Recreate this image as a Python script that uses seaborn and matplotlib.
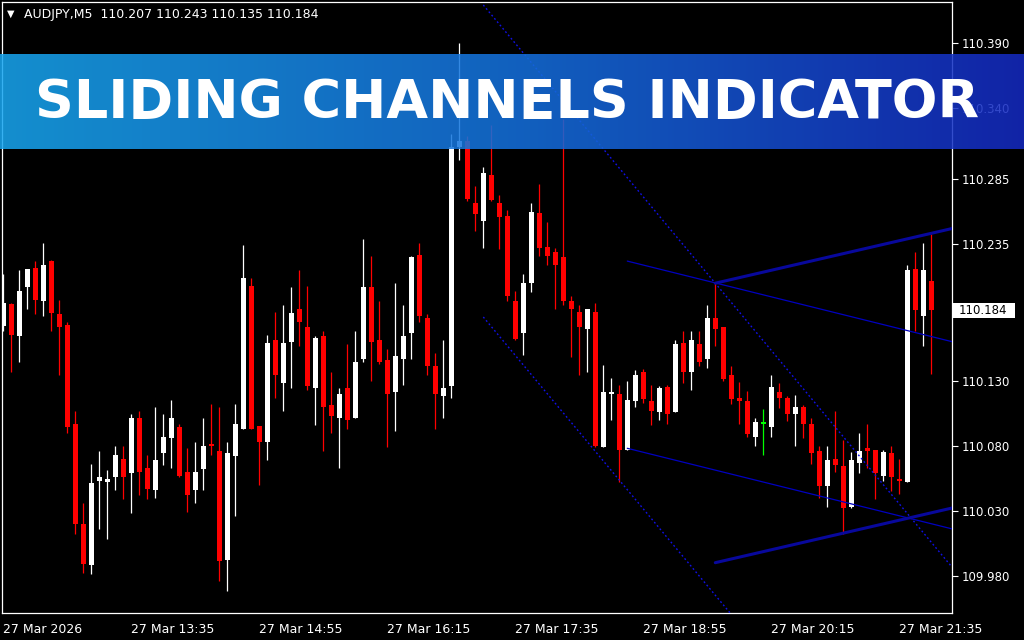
import numpy as np
import pandas as pd
import matplotlib
matplotlib.use("Agg")
import matplotlib.pyplot as plt
import matplotlib.transforms as mtransforms
from matplotlib.patches import Rectangle
import seaborn as sns

# AUDJPY M5 candles
opens = [110.172, 110.189, 110.164, 110.202, 110.217, 110.191, 110.222, 110.181, 110.173, 110.097,
         110.020, 109.988, 110.053, 110.052, 110.056, 110.070, 110.059, 110.101, 110.063, 110.046,
         110.074, 110.086, 110.094, 110.060, 110.046, 110.062, 110.081, 110.076, 109.992, 110.072,
         110.093, 110.203, 110.095, 110.083, 110.161, 110.128, 110.160, 110.185, 110.171, 110.124,
         110.164, 110.111, 110.101, 110.124, 110.101, 110.147, 110.202, 110.161, 110.146, 110.121,
         110.147, 110.167, 110.227, 110.178, 110.141, 110.118, 110.126, 110.310, 110.314, 110.267,
         110.253, 110.288, 110.267, 110.257, 110.191, 110.167, 110.205, 110.259, 110.233, 110.229,
         110.225, 110.191, 110.183, 110.170, 110.183, 110.079, 110.120, 110.120, 110.077, 110.114,
         110.137, 110.114, 110.106, 110.125, 110.106, 110.159, 110.137, 110.158, 110.147, 110.178,
         110.171, 110.134, 110.117, 110.114, 110.087, 110.097, 110.094, 110.121, 110.117, 110.104,
         110.110, 110.097, 110.076, 110.049, 110.070, 110.064, 110.033, 110.067, 110.078, 110.077,
         110.057, 110.074, 110.054, 110.052, 110.216, 110.180, 110.207]
highs = [110.212, 110.190, 110.215, 110.216, 110.222, 110.236, 110.223, 110.192, 110.175, 110.107,
         110.036, 110.066, 110.076, 110.061, 110.080, 110.080, 110.104, 110.107, 110.073, 110.110,
         110.104, 110.115, 110.097, 110.078, 110.083, 110.101, 110.112, 110.110, 110.083, 110.112,
         110.234, 110.209, 110.095, 110.165, 110.183, 110.188, 110.202, 110.215, 110.203, 110.164,
         110.168, 110.137, 110.124, 110.158, 110.168, 110.239, 110.226, 110.191, 110.154, 110.205,
         110.188, 110.226, 110.236, 110.181, 110.151, 110.161, 110.320, 110.390, 110.318, 110.280,
         110.294, 110.327, 110.273, 110.261, 110.199, 110.212, 110.267, 110.281, 110.252, 110.232,
         110.331, 110.195, 110.188, 110.185, 110.190, 110.142, 110.132, 110.127, 110.130, 110.138,
         110.139, 110.127, 110.126, 110.127, 110.161, 110.168, 110.168, 110.168, 110.188, 110.205,
         110.171, 110.141, 110.129, 110.122, 110.101, 110.108, 110.134, 110.128, 110.118, 110.119,
         110.111, 110.101, 110.080, 110.080, 110.107, 110.084, 110.075, 110.090, 110.097, 110.077,
         110.077, 110.080, 110.070, 110.219, 110.229, 110.236, 110.243]
lows = [110.168, 110.137, 110.144, 110.185, 110.181, 110.180, 110.168, 110.134, 110.090, 110.012,
        109.982, 109.981, 110.016, 110.008, 110.046, 110.039, 110.028, 110.042, 110.039, 110.040,
        110.065, 110.063, 110.056, 110.029, 110.036, 110.046, 110.073, 109.976, 109.968, 110.026,
        110.093, 110.093, 110.050, 110.069, 110.117, 110.107, 110.124, 110.157, 110.123, 110.096,
        110.076, 110.090, 110.063, 110.093, 110.101, 110.144, 110.130, 110.143, 110.079, 110.091,
        110.127, 110.147, 110.175, 110.134, 110.093, 110.101, 110.117, 110.300, 110.268, 110.245,
        110.232, 110.268, 110.231, 110.191, 110.161, 110.150, 110.198, 110.226, 110.219, 110.185,
        110.188, 110.148, 110.134, 110.137, 110.079, 110.079, 110.100, 110.052, 110.077, 110.110,
        110.113, 110.096, 110.100, 110.097, 110.106, 110.128, 110.123, 110.141, 110.140, 110.157,
        110.130, 110.112, 110.097, 110.087, 110.080, 110.073, 110.087, 110.109, 110.099, 110.080,
        110.086, 110.066, 110.040, 110.033, 110.060, 110.012, 110.032, 110.059, 110.063, 110.039,
        110.053, 110.045, 110.043, 110.052, 110.168, 110.157, 110.135]
closes = [110.190, 110.165, 110.199, 110.216, 110.192, 110.219, 110.182, 110.171, 110.094, 110.020,
          109.989, 110.051, 110.056, 110.054, 110.073, 110.056, 110.101, 110.060, 110.047, 110.069,
          110.087, 110.101, 110.057, 110.042, 110.060, 110.080, 110.080, 109.991, 110.074, 110.097,
          110.209, 110.093, 110.083, 110.159, 110.134, 110.159, 110.182, 110.175, 110.126, 110.163,
          110.110, 110.103, 110.120, 110.100, 110.144, 110.202, 110.160, 110.144, 110.120, 110.149,
          110.164, 110.225, 110.180, 110.141, 110.120, 110.124, 110.310, 110.314, 110.270, 110.258,
          110.290, 110.269, 110.256, 110.195, 110.162, 110.205, 110.260, 110.232, 110.226, 110.219,
          110.191, 110.185, 110.171, 110.185, 110.080, 110.121, 110.121, 110.077, 110.115, 110.134,
          110.116, 110.107, 110.124, 110.104, 110.158, 110.137, 110.161, 110.144, 110.178, 110.170,
          110.131, 110.116, 110.114, 110.089, 110.098, 110.097, 110.125, 110.117, 110.104, 110.110,
          110.097, 110.074, 110.049, 110.069, 110.065, 110.032, 110.069, 110.076, 110.076, 110.059,
          110.075, 110.056, 110.053, 110.215, 110.184, 110.215, 110.184]

tick_bars = [0, 16, 32, 48, 64, 80, 96, 112]
tick_times = ["27 Mar 2026", "27 Mar 13:35", "27 Mar 14:55", "27 Mar 16:15",
              "27 Mar 17:35", "27 Mar 18:55", "27 Mar 20:15", "27 Mar 21:35"]
price_ticks = [110.390, 110.340, 110.285, 110.235, 110.180, 110.130, 110.080, 110.030, 109.980]
symbol = "AUDJPY,M5"

# sliding channels: first bar, upper edge at first bar, slope per bar, width
channel_start = [60, 78, 89]
channel_top = [110.419, 110.222, 110.205]
channel_slope = [-0.00738, -0.001527, 0.001421]
channel_width = [0.240, 0.144, 0.215]

sns.set_theme(style="dark", rc={"axes.facecolor": "black", "figure.facecolor": "black"})
plt.rcParams["font.family"] = ["DejaVu Sans"]

df = pd.DataFrame({"o": opens, "h": highs, "l": lows, "c": closes})
df["bar"] = np.arange(len(df))
df["col"] = np.where(df.c > df.o, "white", np.where(df.c < df.o, "#ff0000", "#00ff00"))

fig = plt.figure(figsize=(10.24, 6.4), dpi=100)
ax = fig.add_axes([2 / 1024, 27 / 640, 950 / 1024, 611 / 640])
ax.set_facecolor("black")

ax.vlines(df.bar, df.l, df.h, colors=df.col, lw=0.9, zorder=3)
ax.bar(df.bar, np.maximum((df.c - df.o).abs(), 0.0009), bottom=np.minimum(df.o, df.c),
       width=0.62, color=df.col, linewidth=0, zorder=4)

x_right = 118.59
styles = [dict(lw=1.0, linestyle=(0, (1.3, 1.8)), color="#1010e6"),
          dict(lw=0.9, color="#0000c0"),
          dict(lw=2.2, color="#08089c")]
for s, top, slope, w, st in zip(channel_start, channel_top, channel_slope, channel_width, styles):
    xs = [s, x_right]
    up = [top, top + slope * (x_right - s)]
    sns.lineplot(x=xs, y=up, ax=ax, estimator=None, zorder=5, **st)
    sns.lineplot(x=xs, y=[v - w for v in up], ax=ax, estimator=None, zorder=5, **st)

ax.set_xlim(-0.1625, x_right)
ax.set_ylim(109.9513, 110.4213)
ax.grid(False)
for sp in ax.spines.values():
    sp.set_visible(True)
    sp.set_color("white")
    sp.set_linewidth(0.9)

last = closes[-1]
ax.yaxis.tick_right()
ax.set_yticks(price_ticks)
# the label hidden under the current price box is left blank
ax.set_yticklabels(["" if abs(p - last) < 0.008 else f"{p:.3f}" for p in price_ticks])
ax.set_xticks(tick_bars)
ax.set_xticklabels(tick_times, ha="left")
ax.tick_params(axis="y", colors="white", direction="out", length=4, width=0.8, pad=3, labelsize=8.5)
ax.tick_params(axis="x", colors="white", direction="out", length=4, width=0.8, pad=3, labelsize=9)
ax.set_xlabel("")
ax.set_ylabel("")

# current price marker on the price scale
blend = mtransforms.blended_transform_factory(fig.transFigure, ax.transData)
ax.add_patch(Rectangle((953 / 1024, last - 0.00577), 62 / 1024, 0.01154,
                       transform=blend, facecolor="white", edgecolor="none", clip_on=False, zorder=10))
ax.text(959 / 1024, last, f"{last:.3f}", transform=blend, ha="left", va="center",
        color="black", fontsize=8.5, clip_on=False, zorder=11)

fig.text(7 / 1024, 1 - 16.5 / 640, "\u25bc", color="white", fontsize=7, va="baseline")
fig.text(24.5 / 1024, 1 - 18.3 / 640,
         f"{symbol}  {opens[-1]:.3f} {highs[-1]:.3f} {lows[-1]:.3f} {closes[-1]:.3f}",
         color="white", fontsize=9, va="baseline")

# translucent gradient banner
stops = [0.0, 0.5, 1.0]
disp = np.array([[21, 144, 208], [18, 98, 192], [18, 36, 168]]) / 255.0
alpha = 0.87
t = np.linspace(0, 1, 512)
grad = np.stack([np.interp(t, stops, disp[:, i] / alpha) for i in range(3)], axis=-1).clip(0, 1)
bax = fig.add_axes([0, 1 - 149 / 640, 1, (149 - 53.7) / 640])
bax.imshow(grad[np.newaxis, :, :], aspect="auto", extent=[0, 1, 0, 1], alpha=alpha)
bax.axis("off")

fig.text(507.5 / 1024, 1 - 118.3 / 640, "SLIDING CHANNELS INDICATOR", ha="center", va="baseline",
         color="white", fontsize=38.8, fontfamily="DejaVu Sans", fontweight="bold", zorder=20)

fig.savefig("out.png", dpi=100, facecolor="black")
